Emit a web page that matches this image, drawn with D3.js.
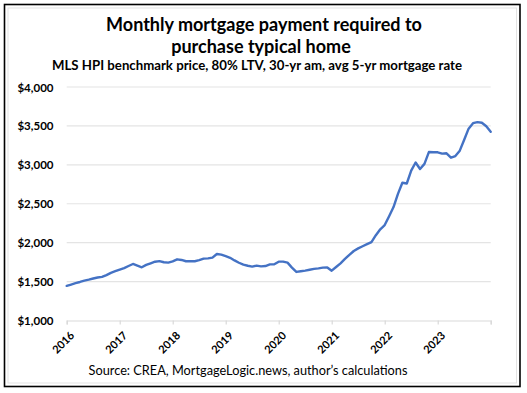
<!DOCTYPE html>
<html>
<head>
<meta charset="utf-8">
<script src="https://cdn.jsdelivr.net/npm/d3@7"></script>
<style>
  html, body { margin: 0; padding: 0; background: #ffffff; }
  svg { display: block; }
  text { font-family: Lato, "Open Sans", sans-serif; fill: #000; }
</style>
</head>
<body>
<svg id="chart" width="527" height="393"></svg>
<script>
// ---- Data ----
const titleLines = ["Monthly mortgage payment required to", "purchase typical home"];
const subtitle = "MLS HPI benchmark price, 80% LTV, 30-yr am, avg 5-yr mortgage rate";
const source = "Source: CREA, MortgageLogic.news, author\u2019s calculations";
const startYear = 2016;
const yearTicks = [2016, 2017, 2018, 2019, 2020, 2021, 2022, 2023];
const yTicks = [1000, 1500, 2000, 2500, 3000, 3500, 4000];
// Monthly payment, Jan 2016 .. Jan 2024 (monthly)
const payments = [
  1445, 1462, 1480, 1495, 1512, 1525, 1540, 1552, 1560, 1583, 1612, 1633,
  1653, 1673, 1700, 1726, 1705, 1684, 1714, 1735, 1755, 1763, 1748, 1744,
  1760, 1786, 1778, 1761, 1761, 1761, 1775, 1795, 1798, 1808, 1855, 1846,
  1827, 1806, 1772, 1742, 1717, 1703, 1693, 1705, 1696, 1700, 1721, 1722,
  1756, 1756, 1743, 1680, 1624, 1632, 1641, 1652, 1663, 1669, 1679, 1682,
  1640, 1687, 1735, 1791, 1844, 1893, 1927, 1954, 1981, 2008, 2096, 2172,
  2226, 2339, 2457, 2627, 2770, 2760, 2925, 3030, 2946, 3012, 3164, 3161,
  3161, 3144, 3148, 3092, 3113, 3182, 3322, 3465, 3535, 3549, 3540, 3495,
  3425
];

// ---- Layout ----
const svg = d3.select("#chart");
const plot = { left: 66.7, right: 490.7, top: 87, bottom: 320.5 };

// frame
svg.append("rect").attr("x", 8).attr("y", 8).attr("width", 508.5).attr("height", 375)
  .attr("fill", "none").attr("stroke", "#e3e3e3").attr("stroke-width", 1);
svg.append("rect").attr("x", 4.5).attr("y", 4.5).attr("width", 515.5).attr("height", 382)
  .attr("fill", "none").attr("stroke", "#000").attr("stroke-width", 1.6);

const x = d3.scaleLinear().domain([startYear, startYear + 8]).range([plot.left, plot.right]);
const y = d3.scaleLinear().domain([1000, 4000]).range([plot.bottom, plot.top]);

function fitText(sel, targetWidth) {
  const w = sel.node().getComputedTextLength();
  const fs = parseFloat(sel.attr("font-size"));
  const nfs = fs * targetWidth / w;
  sel.attr("font-size", nfs.toFixed(2));
  return nfs;
}

// titles
const t1 = svg.append("text").attr("x", 264).attr("y", 31).attr("text-anchor", "middle")
  .attr("font-weight", "bold").attr("font-size", 18).text(titleLines[0]);
const tfs = fitText(t1, 316);
svg.append("text").attr("x", 261).attr("y", 53).attr("text-anchor", "middle")
  .attr("font-weight", "bold").attr("font-size", tfs.toFixed(2)).text(titleLines[1]);
const st = svg.append("text").attr("x", 257).attr("y", 70).attr("text-anchor", "middle")
  .attr("font-weight", "bold").attr("font-size", 11).text(subtitle);
fitText(st, 410);

// gridlines
svg.append("g").selectAll("line").data(yTicks.filter(d => d > 1000)).join("line")
  .attr("x1", plot.left).attr("x2", plot.right)
  .attr("y1", d => y(d)).attr("y2", d => y(d))
  .attr("stroke", "#e4e4e4").attr("stroke-width", 1.2);

// y axis labels
const yAxis = d3.axisLeft(y).tickValues(yTicks).tickSize(0).tickPadding(0)
  .tickFormat(d => "$" + d3.format(",")(d));
const yg = svg.append("g").attr("transform", `translate(${53.5},0)`).call(yAxis);
yg.select(".domain").remove();
yg.selectAll("text").attr("font-family", "Lato, sans-serif").attr("font-weight", "bold")
  .attr("font-size", 11.5).attr("fill", "#000").attr("dy", "0.35em");

// x axis
const xAxis = d3.axisBottom(x).tickValues(yearTicks.concat([startYear + 8])).tickSize(4)
  .tickFormat(d => d <= 2023 ? String(d) : "");
const xg = svg.append("g").attr("transform", `translate(0,${plot.bottom})`).call(xAxis);
xg.select(".domain").attr("stroke", "#d9d9d9").attr("stroke-width", 1.2);
xg.selectAll(".tick line").attr("stroke", "#d9d9d9").attr("stroke-width", 1.2);
xg.selectAll("text")
  .attr("font-family", "Lato, sans-serif").attr("font-weight", "bold").attr("font-size", 11)
  .attr("fill", "#000")
  .attr("text-anchor", "end")
  .attr("x", 0).attr("y", 0).attr("dy", "0.35em")
  .attr("transform", "translate(5,13) rotate(-45)");

// line
const line = d3.line()
  .x((d, i) => x(startYear + i / 12))
  .y(d => y(d));
svg.append("path").datum(payments)
  .attr("fill", "none").attr("stroke", "#4472C4").attr("stroke-width", 2.4)
  .attr("stroke-linejoin", "round").attr("stroke-linecap", "round")
  .attr("d", line);

// source
const src = svg.append("text").attr("x", 248).attr("y", 375).attr("text-anchor", "middle")
  .attr("font-size", 11).text(source);
fitText(src, 319);
</script>
</body>
</html>
